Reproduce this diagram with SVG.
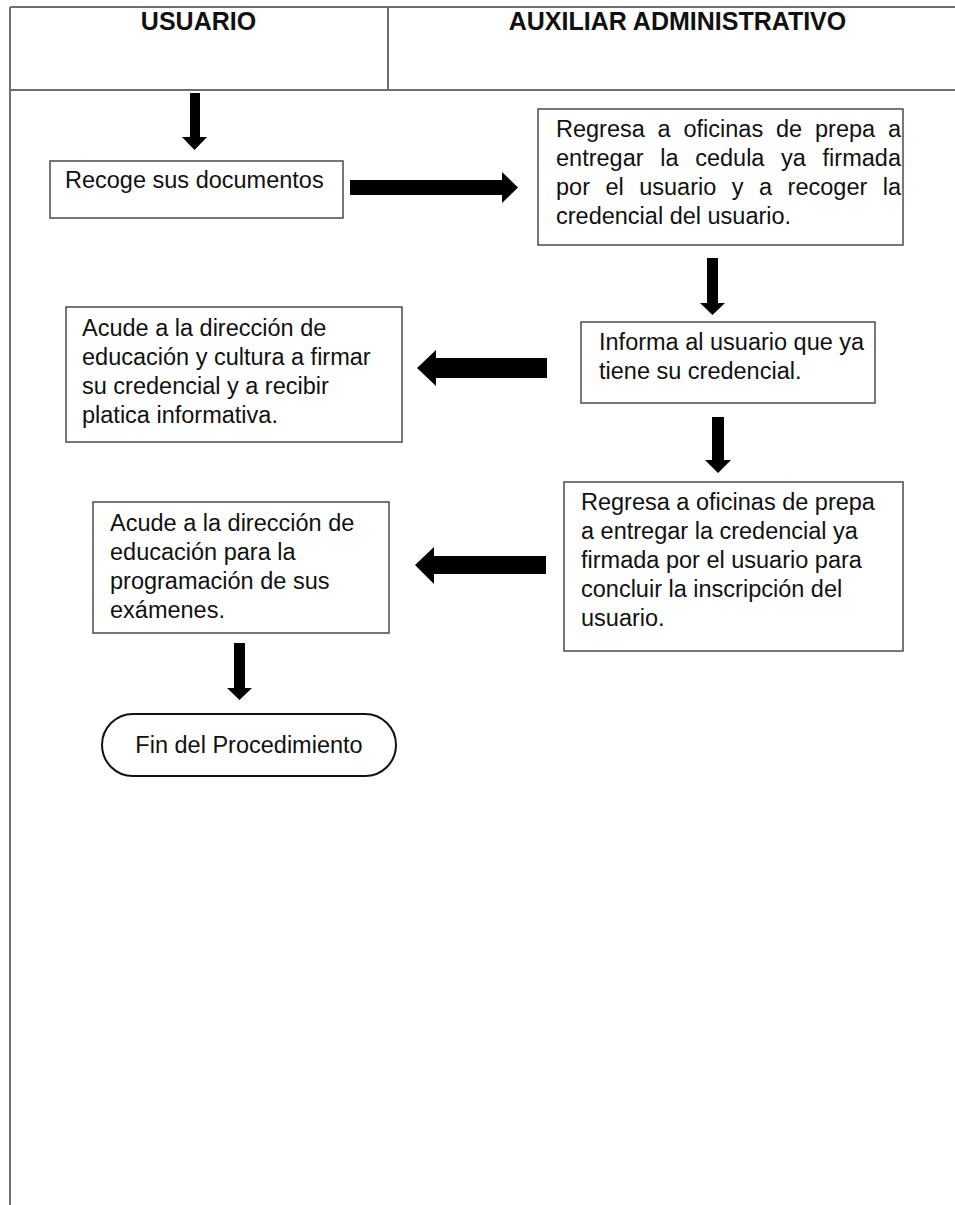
<svg xmlns="http://www.w3.org/2000/svg" width="955" height="1205" viewBox="0 0 955 1205">
<style>
.lane{stroke:#6e6e6e;stroke-width:2;fill:none}
.box{fill:#fff;stroke:#555;stroke-width:1.6}
.term{fill:#fff;stroke:#111;stroke-width:2}
.t{font-family:"Liberation Sans",Arial,sans-serif;font-size:23.5px;fill:#111}
.h{font-family:"Liberation Sans",Arial,sans-serif;font-size:25px;font-weight:bold;fill:#111;text-anchor:middle}
.arr{fill:#000}
</style>
<rect width="955" height="1205" fill="#fff"/>
<g id="lanes">
<line class="lane" x1="10" y1="7" x2="960" y2="7"/>
<line class="lane" x1="10" y1="7" x2="10" y2="1210"/>
<line class="lane" x1="388" y1="7" x2="388" y2="90"/>
<line class="lane" x1="10" y1="90" x2="960" y2="90"/>
<text class="h" x="198.5" y="30">USUARIO</text>
<text class="h" x="677.5" y="30">AUXILIAR ADMINISTRATIVO</text>
</g>
<g id="connectors">
<polygon class="arr" points="190,93 200,93 200,137 207,137 194.5,150 182,137 190,137"/>
<polygon class="arr" points="350,180 502,180 502,172 518,187.5 502,203 502,195 350,195"/>
<polygon class="arr" points="707,258 718,258 718,303 725,303 712.5,315 700,303 707,303"/>
<polygon class="arr" points="547,358 436,358 436,350 417,368 436,386 436,378 547,378"/>
<polygon class="arr" points="712,417 724,417 724,460 731,460 718,473 705,460 712,460"/>
<polygon class="arr" points="546,556 434,556 434,547 415,565 434,584 434,574 546,574"/>
<polygon class="arr" points="234,643 245,643 245,688 252,688 239.5,700 227,688 234,688"/>
</g>
<g id="n1">
<rect class="box" x="50" y="161" width="293" height="57"/>
<text class="t" x="65" y="188">Recoge sus documentos</text>
</g>
<g id="n2">
<rect class="box" x="538" y="109" width="365" height="136"/>
<text class="t" y="137"><tspan x="556">Regresa</tspan><tspan x="657.6">a</tspan><tspan x="683.5">oficinas</tspan><tspan x="776">de</tspan><tspan x="815">prepa</tspan><tspan x="887.9">a</tspan></text>
<text class="t" y="166"><tspan x="556">entregar</tspan><tspan x="660.2">la</tspan><tspan x="695.2">cedula</tspan><tspan x="781.1">ya</tspan><tspan x="822.6">firmada</tspan></text>
<text class="t" y="195"><tspan x="556">por</tspan><tspan x="605.5">el</tspan><tspan x="639.2">usuario</tspan><tspan x="731.8">y</tspan><tspan x="759">a</tspan><tspan x="787.6">recoger</tspan><tspan x="882.8">la</tspan></text>
<text class="t" x="556" y="224">credencial del usuario.</text>
</g>
<g id="n3">
<rect class="box" x="581" y="322" width="294" height="81"/>
<text class="t" x="599" y="350">Informa al usuario que ya</text>
<text class="t" x="599" y="379">tiene su credencial.</text>
</g>
<g id="n4">
<rect class="box" x="66" y="307" width="336" height="135"/>
<text class="t" x="82" y="336">Acude a la dirección de</text>
<text class="t" x="82" y="365">educación y cultura a firmar</text>
<text class="t" x="82" y="394">su credencial y a recibir</text>
<text class="t" x="82" y="423">platica informativa.</text>
</g>
<g id="n5">
<rect class="box" x="564" y="482" width="339" height="169"/>
<text class="t" x="581" y="510">Regresa a oficinas de prepa</text>
<text class="t" x="581" y="539">a entregar la credencial ya</text>
<text class="t" x="581" y="568">firmada por el usuario para</text>
<text class="t" x="581" y="597">concluir la inscripción del</text>
<text class="t" x="581" y="626">usuario.</text>
</g>
<g id="n6">
<rect class="box" x="93" y="502" width="296" height="131"/>
<text class="t" x="110" y="531">Acude a la dirección de</text>
<text class="t" x="110" y="560">educación para la</text>
<text class="t" x="110" y="589">programación de sus</text>
<text class="t" x="110" y="618">exámenes.</text>
</g>
<g id="n7">
<rect class="term" x="102" y="714" width="294" height="62" rx="31" ry="31"/>
<text class="t" x="249" y="753" text-anchor="middle">Fin del Procedimiento</text>
</g>
</svg>
